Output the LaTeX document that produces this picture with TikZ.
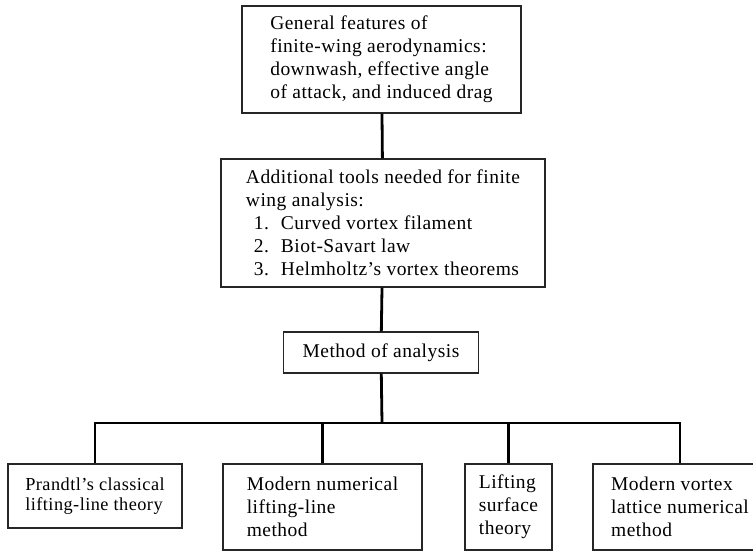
\documentclass[tikz,border=0pt]{standalone}
\usepackage{fontspec}
\usepackage{xcolor}
\usepackage{tikz}
\setmainfont[LetterSpace=2.5]{Liberation Serif}
\newcommand{\listitem}[2]{\hspace*{8pt}\makebox[27pt][l]{#1}#2}

\begin{document}
\begin{tikzpicture}[x=1pt, y=-1pt,
    box/.style={draw=black!85, line width=1.3pt, align=left, inner sep=0pt,
                font=\fontsize{19.5}{23}\selectfont},
    link/.style={line width=2.8pt}]
    \useasboundingbox (0,0) rectangle (753,552);
    % chain of the upper boxes
    \node[box, minimum width=279pt, minimum height=107pt] (features) at (381.5,59.5) {%
      General features of\\
      finite-wing aerodynamics:\\
      downwash, effective angle\\
      of attack, and induced drag};
    \node[box, minimum width=324pt, minimum height=128pt] (tools) at (383,223) {%
      Additional tools needed for finite\\
      wing analysis:\\
      \listitem{1.}{Curved vortex filament}\\
      \listitem{2.}{Biot-Savart law}\\
      \listitem{3.}{Helmholtz's vortex theorems}};
    \node[box, minimum width=195pt, minimum height=41pt] (method) at (381,352.5) {Method of analysis};
    % the four methods
    \node[box, minimum width=174pt, minimum height=64pt,
          font=\fontsize{18.3}{20.5}\selectfont] (prandtl) at (95,496) {%
      Prandtl's classical\\ lifting-line theory};
    \node[box, minimum width=199pt, minimum height=86pt] (numline) at (322.5,507) {%
      Modern numerical\\ lifting-line\\ method};
    \node[box, minimum width=87pt, minimum height=86pt] (surface) at (508.5,507) {%
      Lifting\\ surface\\ theory};
    \node[box, minimum width=174pt, minimum height=86pt] (lattice) at (680,507) {%
      Modern vortex\\ lattice numerical\\ method};
    \coordinate (bar) at (382,423);
    \draw[link] (features) -- (tools);
    \draw[link] (tools) -- (method);
    \draw[link] (method) -- (bar);
    \draw[link] (prandtl.north) |- (lattice.north |- bar) -- (lattice.north);
    \draw[link] (numline.north) -- (numline.north |- bar);
    \draw[link] (surface.north) -- (surface.north |- bar);
\end{tikzpicture}
\end{document}
